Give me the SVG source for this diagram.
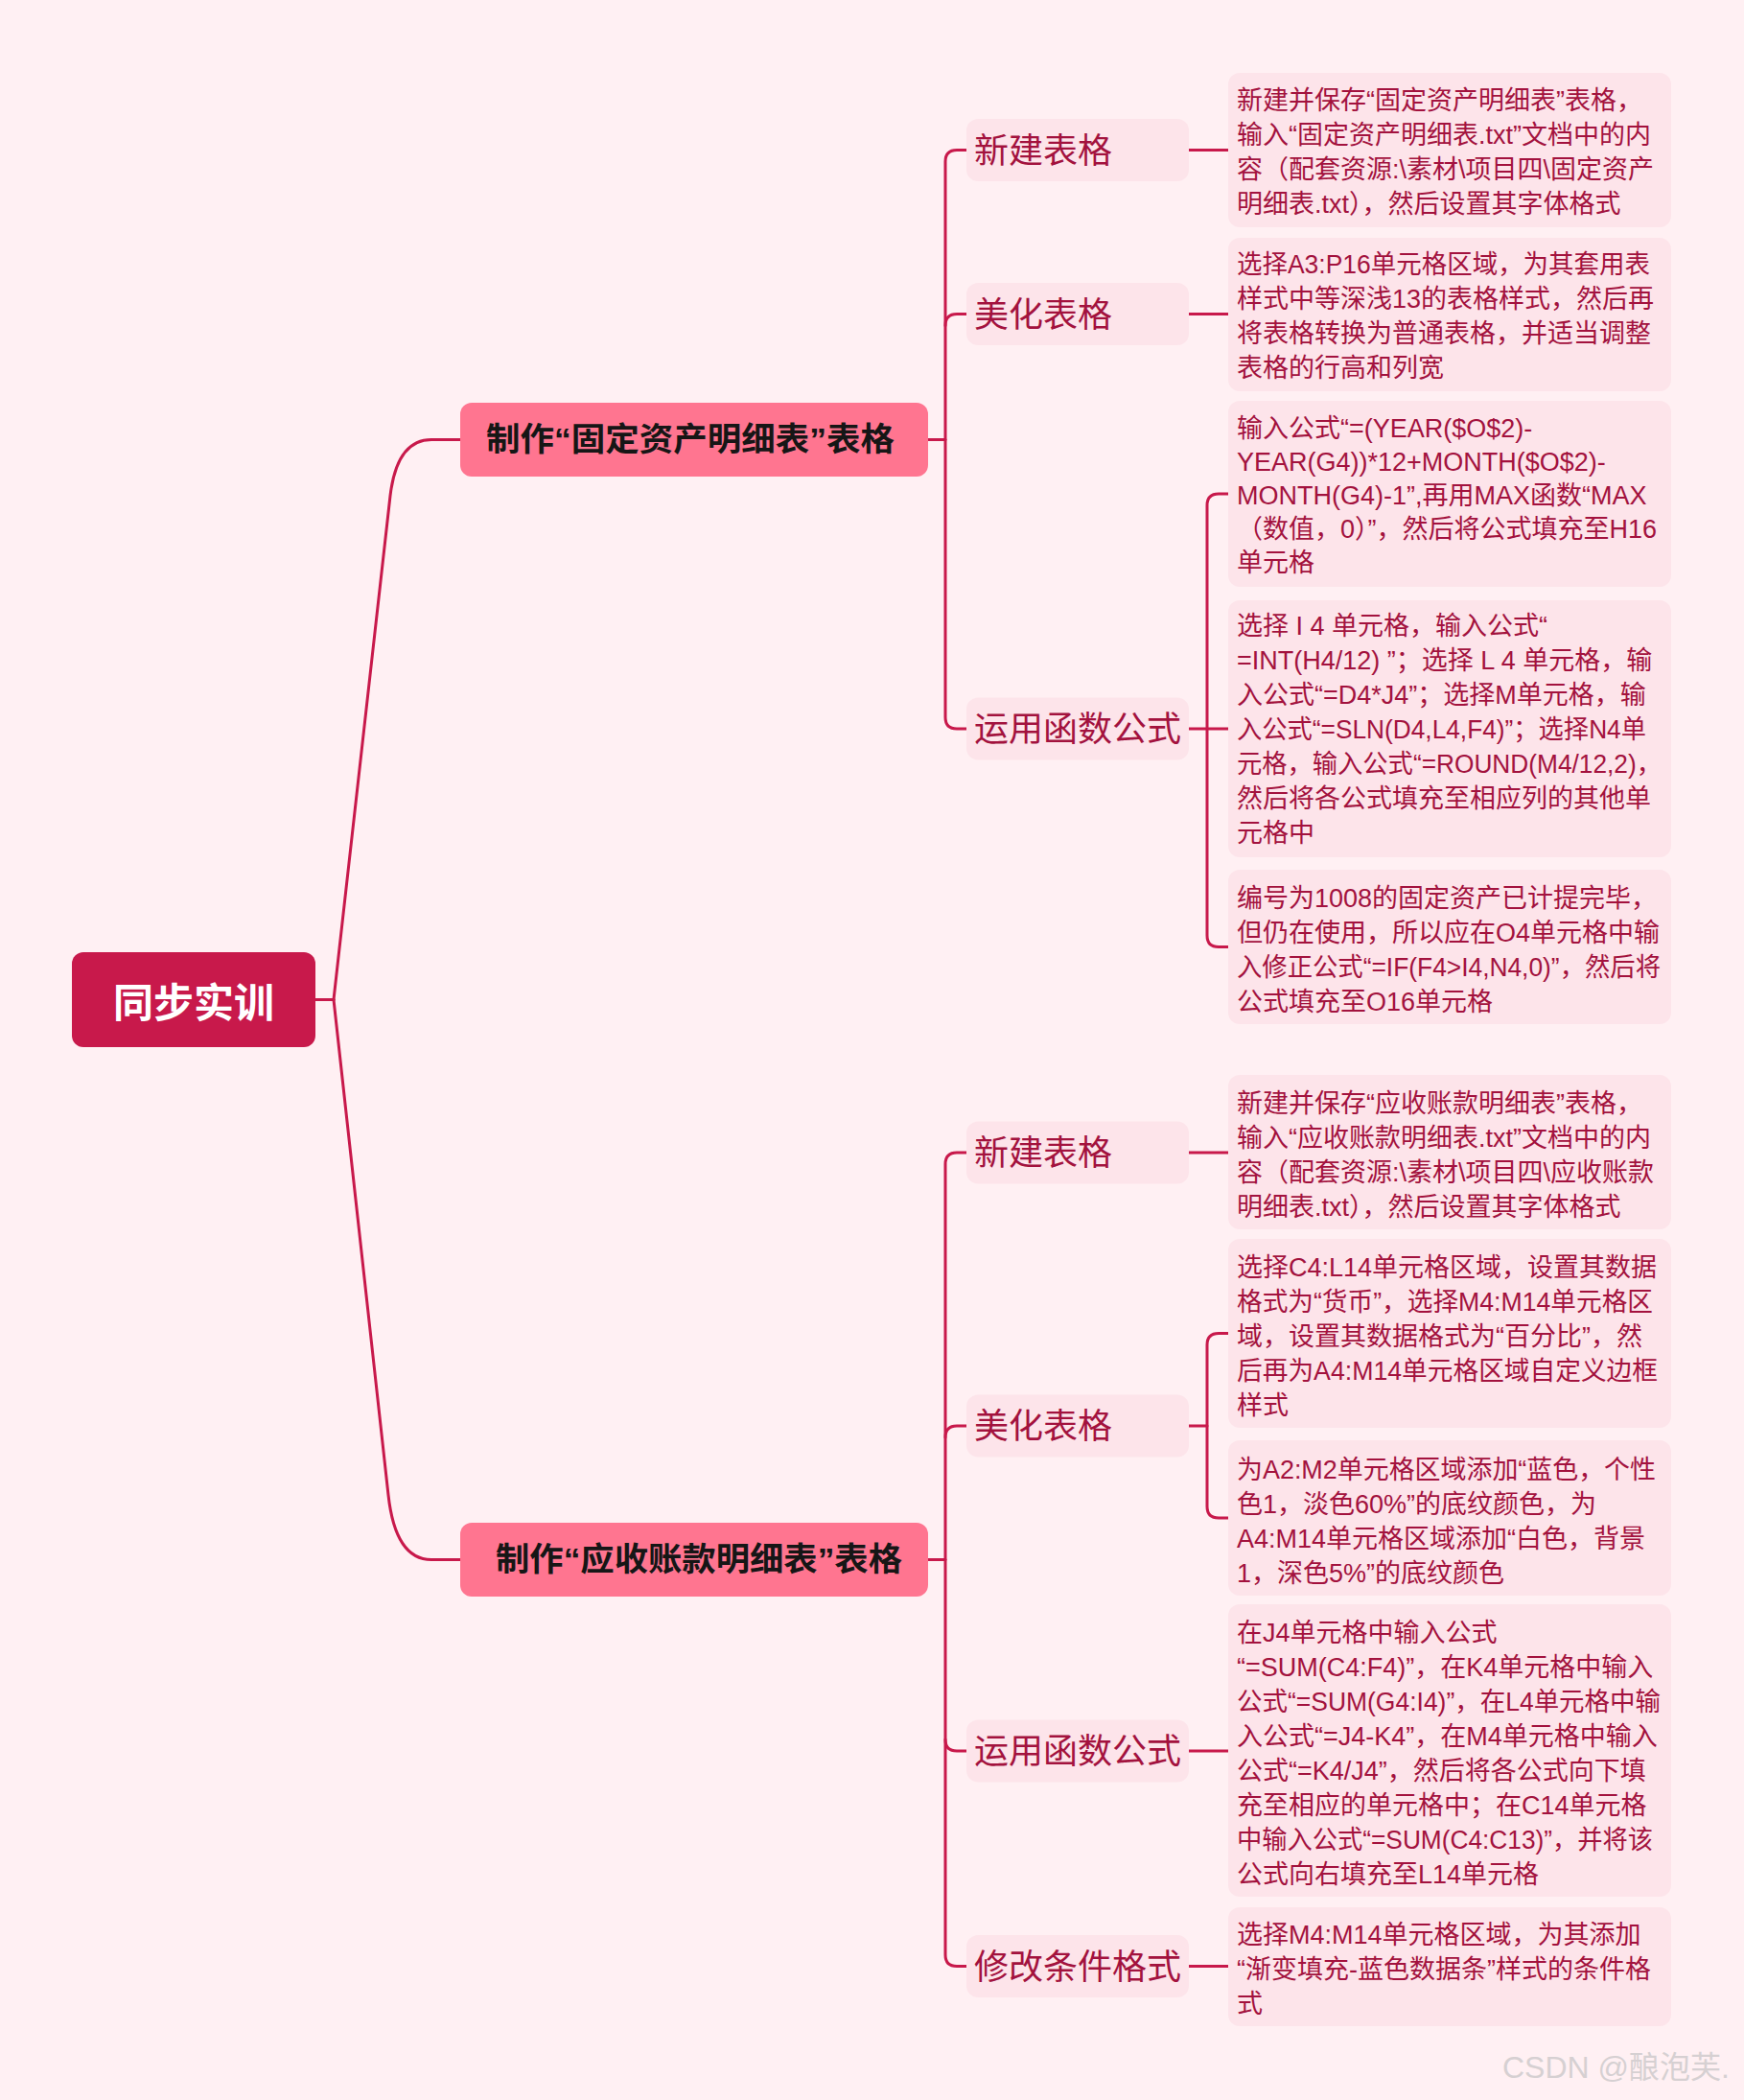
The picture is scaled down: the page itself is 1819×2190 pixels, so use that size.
<svg xmlns="http://www.w3.org/2000/svg" width="1819" height="2190" viewBox="0 0 1819 2190">
<style>
.cj{font-family:"Liberation Sans","Noto Sans CJK SC",sans-serif}
.pill{fill:#FDE4EA}
.leaf{fill:#FDE4EA}
.pt{font-size:36px;fill:#A3123E}
.lt{font-size:27px;fill:#A3123E}
.conn path{fill:none;stroke:#C8194B;stroke-width:3;stroke-linecap:round}
.bt{font-size:34px;font-weight:bold;fill:#161616}
</style>
<rect width="1819" height="2190" fill="#FFF0F3"/>

<g class="conn" id="connectors">
<path d="M329,1042.5 L348,1042.5"/>
<path d="M348,1042.5 L407,517 Q414,458.5 450,458.5 L480,458.5"/>
<path d="M348,1042.5 L405,1559 Q412.4,1626.5 450,1626.5 L480,1626.5"/>
<path d="M968,458.5 L986,458.5"/>
<path d="M1008,156.5 L998,156.5 Q986,156.5 986,168.5 L986,748 Q986,760 998,760 L1008,760"/>
<path d="M986,339.5 Q986,327.5 998,327.5 L1008,327.5"/>
<path d="M968,1626.5 L986,1626.5"/>
<path d="M1008,1202 L998,1202 Q986,1202 986,1214 L986,2038.5 Q986,2050.5 998,2050.5 L1008,2050.5"/>
<path d="M986,1499 Q986,1487 998,1487 L1008,1487"/>
<path d="M986,1814 Q986,1826 998,1826 L1008,1826"/>
<path d="M1240,156.5 L1281,156.5"/>
<path d="M1240,327.5 L1281,327.5"/>
<path d="M1240,760 L1281,760"/>
<path d="M1281,515 L1271,515 Q1259,515 1259,527 L1259,975.5 Q1259,987.5 1271,987.5 L1281,987.5"/>
<path d="M1240,1202 L1281,1202"/>
<path d="M1240,1487 L1259,1487"/>
<path d="M1281,1390.5 L1271,1390.5 Q1259,1390.5 1259,1402.5 L1259,1571 Q1259,1583 1271,1583 L1281,1583"/>
<path d="M1240,1826 L1281,1826"/>
<path d="M1240,2050.5 L1281,2050.5"/>
</g>

<g id="root">
<rect x="75" y="993" width="254" height="99" rx="12" fill="#C8194B"/>
<text class="cj" x="202" y="1061" text-anchor="middle" font-size="42" font-weight="bold" fill="#FFFFFF">同步实训</text>
</g>

<g id="branch1">
<rect x="480" y="420" width="488" height="77" rx="12" fill="#FF7590"/>
<text class="cj bt" x="507" y="470" textLength="426" lengthAdjust="spacingAndGlyphs">制作“固定资产明细表”表格</text>
</g>
<g id="branch2">
<rect x="480" y="1588" width="488" height="77" rx="12" fill="#FF7590"/>
<text class="cj bt" x="517" y="1638" textLength="424" lengthAdjust="spacingAndGlyphs">制作“应收账款明细表”表格</text>
</g>

<g id="b1-new"><rect class="pill" x="1008" y="124" width="232" height="65" rx="12"/><text class="cj pt" x="1016" y="169.5">新建表格</text></g>
<g id="b1-beautify"><rect class="pill" x="1008" y="295" width="232" height="65" rx="12"/><text class="cj pt" x="1016" y="340.5">美化表格</text></g>
<g id="b1-formula"><rect class="pill" x="1008" y="727.5" width="232" height="65" rx="12"/><text class="cj pt" x="1016" y="773">运用函数公式</text></g>
<g id="b2-new"><rect class="pill" x="1008" y="1169.5" width="232" height="65" rx="12"/><text class="cj pt" x="1016" y="1215">新建表格</text></g>
<g id="b2-beautify"><rect class="pill" x="1008" y="1454.5" width="232" height="65" rx="12"/><text class="cj pt" x="1016" y="1500">美化表格</text></g>
<g id="b2-formula"><rect class="pill" x="1008" y="1793.5" width="232" height="65" rx="12"/><text class="cj pt" x="1016" y="1839">运用函数公式</text></g>
<g id="b2-condfmt"><rect class="pill" x="1008" y="2018" width="232" height="65" rx="12"/><text class="cj pt" x="1016" y="2063.5">修改条件格式</text></g>

<g id="leaf1"><rect class="leaf" x="1281" y="76" width="462" height="161" rx="12"/>
<text class="cj lt"><tspan x="1290" y="114">新建并保存“固定资产明细表”表格，</tspan><tspan x="1290" y="150">输入“固定资产明细表.txt”文档中的内</tspan><tspan x="1290" y="186">容（配套资源:\素材\项目四\固定资产</tspan><tspan x="1290" y="222">明细表.txt），然后设置其字体格式</tspan></text></g>

<g id="leaf2"><rect class="leaf" x="1281" y="248" width="462" height="160" rx="12"/>
<text class="cj lt"><tspan x="1290" y="285" textLength="431" lengthAdjust="spacingAndGlyphs">选择A3:P16单元格区域，为其套用表</tspan><tspan x="1290" y="321">样式中等深浅13的表格样式，然后再</tspan><tspan x="1290" y="357">将表格转换为普通表格，并适当调整</tspan><tspan x="1290" y="393">表格的行高和列宽</tspan></text></g>

<g id="leaf3"><rect class="leaf" x="1281" y="418" width="462" height="194" rx="12"/>
<text class="cj lt"><tspan x="1290" y="456">输入公式“=(YEAR($O$2)-</tspan><tspan x="1290" y="491">YEAR(G4))*12+MONTH($O$2)-</tspan><tspan x="1290" y="526">MONTH(G4)-1”,再用MAX函数“MAX</tspan><tspan x="1290" y="561">（数值，0）”，然后将公式填充至H16</tspan><tspan x="1290" y="596">单元格</tspan></text></g>

<g id="leaf4"><rect class="leaf" x="1281" y="626" width="462" height="268" rx="12"/>
<text class="cj lt"><tspan x="1290" y="662">选择 I 4 单元格，输入公式“</tspan><tspan x="1290" y="698">=INT(H4/12) ”；选择 L 4 单元格，输</tspan><tspan x="1290" y="734">入公式“=D4*J4”；选择M单元格，输</tspan><tspan x="1290" y="770" textLength="427" lengthAdjust="spacingAndGlyphs">入公式“=SLN(D4,L4,F4)”；选择N4单</tspan><tspan x="1290" y="806" textLength="443" lengthAdjust="spacingAndGlyphs">元格，输入公式“=ROUND(M4/12,2)，</tspan><tspan x="1290" y="842">然后将各公式填充至相应列的其他单</tspan><tspan x="1290" y="878">元格中</tspan></text></g>

<g id="leaf5"><rect class="leaf" x="1281" y="907" width="462" height="161" rx="12"/>
<text class="cj lt"><tspan x="1290" y="945.5">编号为1008的固定资产已计提完毕，</tspan><tspan x="1290" y="981.5">但仍在使用，所以应在O4单元格中输</tspan><tspan x="1290" y="1017.5" textLength="442" lengthAdjust="spacingAndGlyphs">入修正公式“=IF(F4&gt;I4,N4,0)”，然后将</tspan><tspan x="1290" y="1053.5">公式填充至O16单元格</tspan></text></g>

<g id="leaf6"><rect class="leaf" x="1281" y="1121" width="462" height="161" rx="12"/>
<text class="cj lt"><tspan x="1290" y="1160">新建并保存“应收账款明细表”表格，</tspan><tspan x="1290" y="1196">输入“应收账款明细表.txt”文档中的内</tspan><tspan x="1290" y="1232">容（配套资源:\素材\项目四\应收账款</tspan><tspan x="1290" y="1268">明细表.txt），然后设置其字体格式</tspan></text></g>

<g id="leaf7"><rect class="leaf" x="1281" y="1292" width="462" height="197" rx="12"/>
<text class="cj lt"><tspan x="1290" y="1331">选择C4:L14单元格区域，设置其数据</tspan><tspan x="1290" y="1367" textLength="434" lengthAdjust="spacingAndGlyphs">格式为“货币”，选择M4:M14单元格区</tspan><tspan x="1290" y="1403">域，设置其数据格式为“百分比”，然</tspan><tspan x="1290" y="1439" textLength="439" lengthAdjust="spacingAndGlyphs">后再为A4:M14单元格区域自定义边框</tspan><tspan x="1290" y="1475">样式</tspan></text></g>

<g id="leaf8"><rect class="leaf" x="1281" y="1502" width="462" height="162" rx="12"/>
<text class="cj lt"><tspan x="1290" y="1541.5" textLength="437" lengthAdjust="spacingAndGlyphs">为A2:M2单元格区域添加“蓝色，个性</tspan><tspan x="1290" y="1577.5">色1，淡色60%”的底纹颜色，为</tspan><tspan x="1290" y="1613.5">A4:M14单元格区域添加“白色，背景</tspan><tspan x="1290" y="1649.5">1，深色5%”的底纹颜色</tspan></text></g>

<g id="leaf9"><rect class="leaf" x="1281" y="1673" width="462" height="305" rx="12"/>
<text class="cj lt"><tspan x="1290" y="1711.5">在J4单元格中输入公式</tspan><tspan x="1290" y="1747.5">“=SUM(C4:F4)”，在K4单元格中输入</tspan><tspan x="1290" y="1783.5" textLength="442" lengthAdjust="spacingAndGlyphs">公式“=SUM(G4:I4)”，在L4单元格中输</tspan><tspan x="1290" y="1819.5">入公式“=J4-K4”，在M4单元格中输入</tspan><tspan x="1290" y="1855.5">公式“=K4/J4”，然后将各公式向下填</tspan><tspan x="1290" y="1891.5">充至相应的单元格中；在C14单元格</tspan><tspan x="1290" y="1927.5" textLength="434" lengthAdjust="spacingAndGlyphs">中输入公式“=SUM(C4:C13)”，并将该</tspan><tspan x="1290" y="1963.5">公式向右填充至L14单元格</tspan></text></g>

<g id="leaf10"><rect class="leaf" x="1281" y="1989" width="462" height="124" rx="12"/>
<text class="cj lt"><tspan x="1290" y="2026.5">选择M4:M14单元格区域，为其添加</tspan><tspan x="1290" y="2062.5">“渐变填充-蓝色数据条”样式的条件格</tspan><tspan x="1290" y="2098.5">式</tspan></text></g>

<text class="cj" x="1567" y="2167" font-size="32" fill="#D6D0D2">CSDN @酿泡芙.</text>
</svg>
